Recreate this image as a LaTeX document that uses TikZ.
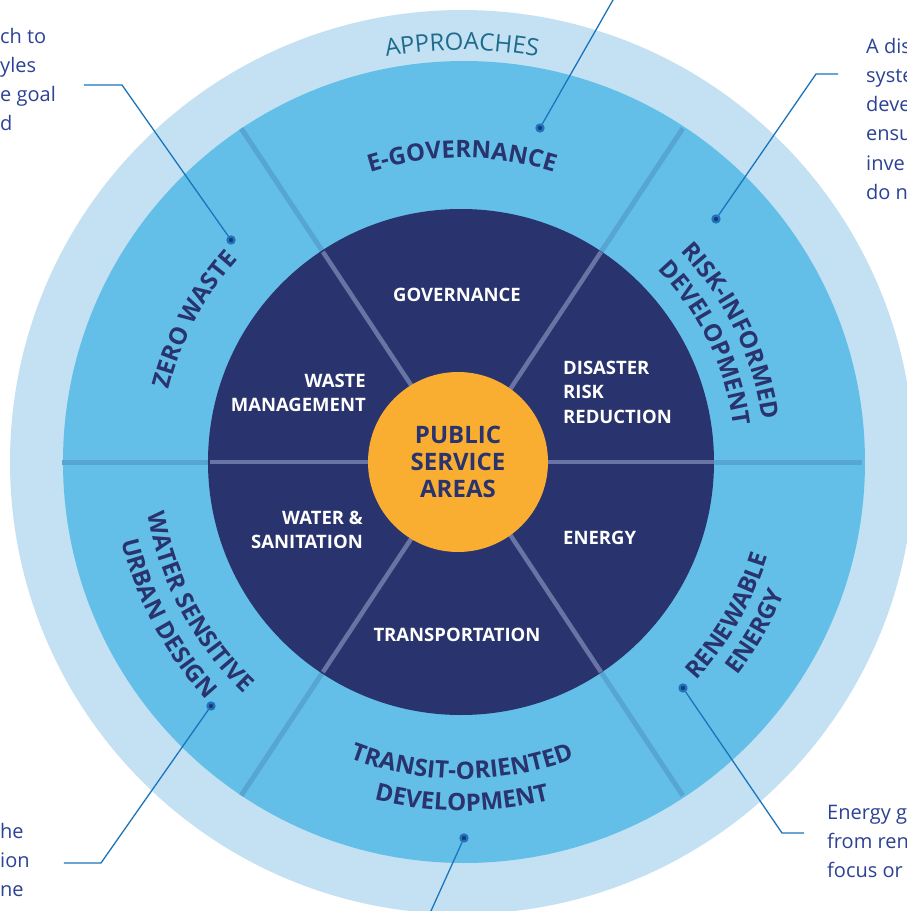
\documentclass[tikz,border=0pt]{standalone}
\usepackage{fontspec}
\setmainfont{Open Sans}
\usetikzlibrary{decorations.text}

\definecolor{outerblue}{RGB}{196, 225, 243}
\definecolor{ringblue}{RGB}{99, 191, 232}
\definecolor{ringline}{RGB}{86, 165, 211}
\definecolor{navy}{RGB}{41, 51, 110}
\definecolor{navyline}{RGB}{104, 117, 164}
\definecolor{myorange}{RGB}{249, 174, 50}
\definecolor{approachteal}{RGB}{29, 108, 140}
\definecolor{leaderblue}{RGB}{26, 117, 188}
\definecolor{notetext}{RGB}{44, 66, 148}

\newcommand{\ringfont}{\fontsize{24}{24}\selectfont\bfseries}
\newcommand{\approachfont}{\fontsize{24}{24}\selectfont}

\tikzstyle{area} = [text=white, inner sep=0,
    font=\fontsize{18.5}{24.5}\selectfont\bfseries]
\tikzstyle{hub} = [circle, fill=myorange, minimum size=180, inner sep=0,
    text=navy, align=center, font=\fontsize{24}{27}\selectfont\bfseries]
\tikzstyle{curved} = [decorate,
    decoration={text along path, text align=center, text color=navy}]
\tikzstyle{note} = [text=notetext, inner sep=0, align=left,
    font=\fontsize{20}{29.2}\selectfont]
\tikzstyle{leader} = [draw=leaderblue, line width=1.3]
\tikzstyle{dot} = [circle, fill=navy, draw=leaderblue, line width=2.2,
    minimum size=7, inner sep=0]

\begin{document}
\begin{tikzpicture}[x=1pt, y=1pt]

\useasboundingbox[fill=white] (-462,-449) rectangle (445,462);

%%% rings
\fill[outerblue] (0,0) circle (452);
\fill[ringblue] (2,0) circle (401);
\foreach \a in {0,56.5,123.5,180,236.5,303.5}
    \draw[ringline, line width=5] (\a:240) -- (\a:400);
\fill[navy] (-1,0) circle (253);
\foreach \a in {0,56.5,123.5,180,236.5,303.5}
    \draw[navyline, line width=4.5] (\a:80) -- (\a:252);

\node[hub] (hub) at (-4,0) {PUBLIC\\SERVICE\\AREAS};


%%% public service areas
\node[area] (gov) at (-5,167) {GOVERNANCE};
\node[area, anchor=east, align=right] (waste) at (-96,69) {WASTE\\MANAGEMENT};
\node[area, anchor=west, align=left] (drr) at (101,70) {DISASTER\\RISK\\REDUCTION};
\node[area, anchor=east, align=right] (water) at (-99,-68) {WATER \&\\SANITATION};
\node[area, anchor=west] (energy) at (101,-76) {ENERGY};
\node[area] (transport) at (-5,-173) {TRANSPORTATION};


%%% approaches
\path[curved, decoration={text color=approachteal, text={|\approachfont|APPROACHES}}]
    (120:412) arc[start angle=120, end angle=60, radius=412];

\path[curved, decoration={text={|\ringfont|E-GOVERNANCE}}]
    (130:304) arc[start angle=130, end angle=50, radius=304];
\path[curved, decoration={text={|\ringfont|ZERO WASTE}}]
    (192:302) arc[start angle=192, end angle=112, radius=302];
\path[curved, decoration={text={|\ringfont|RISK-INFORMED}}]
    (66:303) arc[start angle=66, end angle=-14, radius=303];
\path[curved, decoration={text={|\ringfont|DEVELOPMENT}}]
    (66:274) arc[start angle=66, end angle=-14, radius=274];

\path[curved, decoration={text={|\ringfont|WATER SENSITIVE}}]
    (168:318) arc[start angle=168, end angle=248, radius=318];
\path[curved, decoration={text={|\ringfont|URBAN DESIGN}}]
    (168:349) arc[start angle=168, end angle=248, radius=349];
\path[curved, decoration={text={|\ringfont|TRANSIT-ORIENTED}}]
    (230:317) arc[start angle=230, end angle=310, radius=317];
\path[curved, decoration={text={|\ringfont|DEVELOPMENT}}]
    (230:349) arc[start angle=230, end angle=310, radius=349];
\path[curved, decoration={text={|\ringfont|RENEWABLE}}]
    (290:320) arc[start angle=290, end angle=370, radius=320];
\path[curved, decoration={text={|\ringfont|ENERGY}}]
    (290:348) arc[start angle=290, end angle=370, radius=348];


%%% callouts
\node[dot] (egovdot) at (78,334) {};
\coordinate (egovend) at (163,483);
\draw[leader] (egovdot) -- (egovend);

\node[dot] (zerodot) at (-231,222) {};
\coordinate (zerobend) at (-340,377);
\coordinate (zeroend) at (-378,377);
\draw[leader] (zerodot) -- (zerobend) -- (zeroend);
\node[note, anchor=north west] (zeronote) at (-462,434) {ch to\\yles\\e goal\\d};

\node[dot] (riskdot) at (254,243) {};
\coordinate (riskbend) at (354,388);
\coordinate (riskend) at (376,388);
\draw[leader] (riskdot) -- (riskbend) -- (riskend);
\node[note, anchor=north west] (risknote) at (404,424) {A dis\\syste\\deve\\ensu\\inve\\do n};

\node[dot] (waterdot) at (-251,-244) {};
\coordinate (waterbend) at (-361,-401);
\coordinate (waterend) at (-398,-401);
\draw[leader] (waterdot) -- (waterbend) -- (waterend);
\node[note, anchor=north west] (waternote) at (-462,-361) {he\\ion\\ne};

\node[dot] (energydot) at (221,-226) {};
\coordinate (energybend) at (320,-371);
\coordinate (energyend) at (342,-371);
\draw[leader] (energydot) -- (energybend) -- (energyend);
\node[note, anchor=north west] (energynote) at (365,-343) {Energy g\\from ren\\focus or};

\node[dot] (transitdot) at (2,-376) {};
\coordinate (transitend) at (-36,-460);
\draw[leader] (transitdot) -- (transitend);

\end{tikzpicture}
\end{document}
